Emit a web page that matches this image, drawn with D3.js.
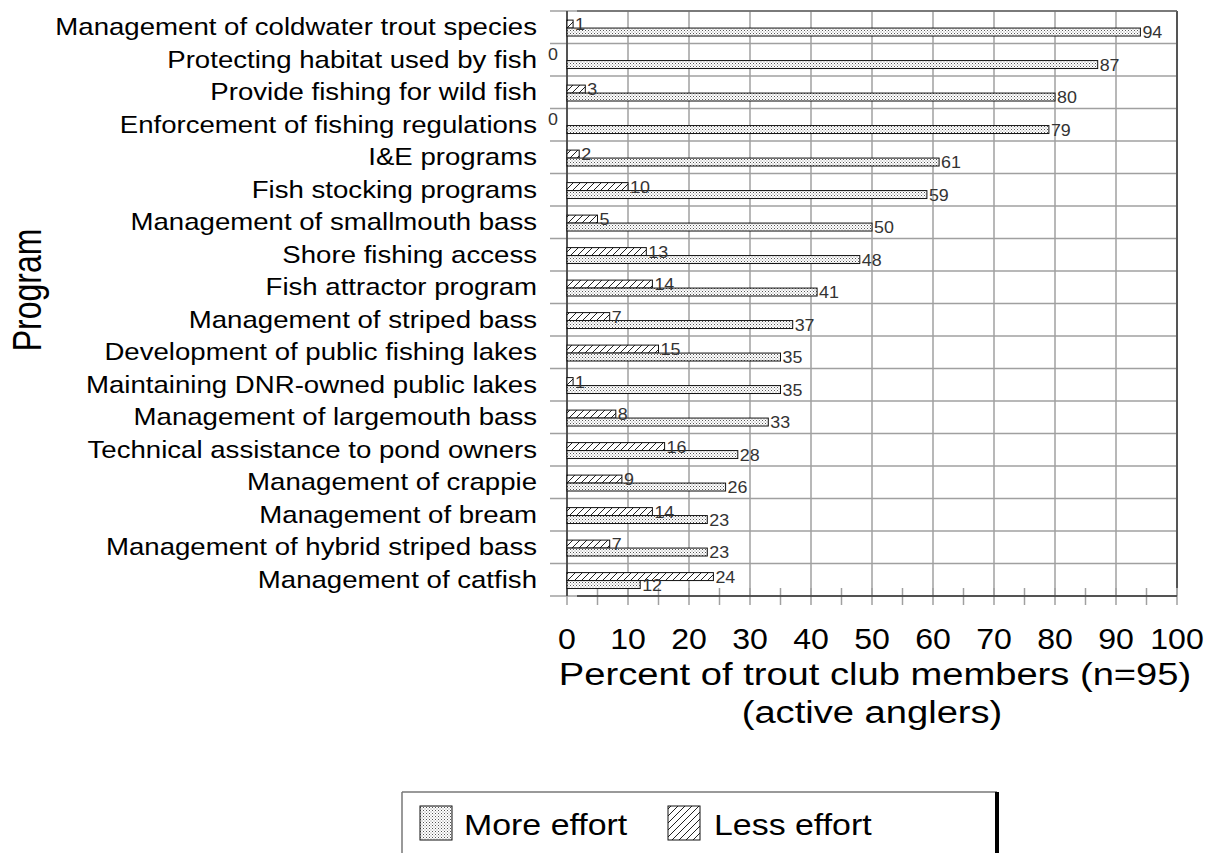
<!DOCTYPE html>
<html>
<head>
<meta charset="utf-8">
<script src="https://cdn.jsdelivr.net/npm/d3@7"></script>
<style>
  html, body { margin: 0; padding: 0; background: #fff; }
  svg { display: block; font-family: "Liberation Sans", Arial, sans-serif; }
</style>
</head>
<body>
<svg id="chart" width="1206" height="853"></svg>
<script>
// Programs, listed top to bottom
const categories = [
  "Management of coldwater trout species",
  "Protecting habitat used by fish",
  "Provide fishing for wild fish",
  "Enforcement of fishing regulations",
  "I&E programs",
  "Fish stocking programs",
  "Management of smallmouth bass",
  "Shore fishing access",
  "Fish attractor program",
  "Management of striped bass",
  "Development of public fishing lakes",
  "Maintaining DNR-owned public lakes",
  "Management of largemouth bass",
  "Technical assistance to pond owners",
  "Management of crappie",
  "Management of bream",
  "Management of hybrid striped bass",
  "Management of catfish"
];
// Percent of respondents wanting more effort
const moreEffort = [94, 87, 80, 79, 61, 59, 50, 48, 41, 37, 35, 35, 33, 28, 26, 23, 23, 12];
// Percent of respondents wanting less effort
const lessEffort = [1, 0, 3, 0, 2, 10, 5, 13, 14, 7, 15, 1, 8, 16, 9, 14, 7, 24];
const xTicks = [0, 10, 20, 30, 40, 50, 60, 70, 80, 90, 100];
const seriesNames = ["Less effort", "More effort"];

const svg = d3.select("#chart");

const plotLeft = 567, plotRight = 1177, plotTop = 11, plotBottom = 596;

const x = d3.scaleLinear().domain([0, 100]).range([plotLeft, plotRight]);
const y = d3.scaleBand().domain(categories).range([plotTop, plotBottom]);
const bw = y.bandwidth();
const inner = d3.scaleBand().domain(seriesNames).range([bw * 0.28, bw * 0.77]);

// Fill patterns
const defs = svg.append("defs");
const dots = defs.append("pattern").attr("id", "dots")
  .attr("patternUnits", "userSpaceOnUse").attr("width", 3).attr("height", 3);
dots.append("rect").attr("width", 3).attr("height", 3).attr("fill", "#fff");
dots.append("rect").attr("x", 0).attr("y", 0).attr("width", 1).attr("height", 1).attr("fill", "#555");
dots.append("rect").attr("x", 1.5).attr("y", 1.5).attr("width", 1).attr("height", 1).attr("fill", "#888");

const hatch = defs.append("pattern").attr("id", "hatch")
  .attr("patternUnits", "userSpaceOnUse").attr("width", 7).attr("height", 7);
hatch.append("rect").attr("width", 7).attr("height", 7).attr("fill", "#fff");
hatch.append("path").attr("d", "M0,7 L7,0 M-1,1 L1,-1 M6,8 L8,6")
  .attr("stroke", "#222").attr("stroke-width", 1);

function stretchedText(parent, tx, ty, str, size, anchor, sx, extra) {
  return parent.append("text")
    .attr("transform", `translate(${tx},${ty}) scale(${sx},1)` + (extra || ""))
    .attr("text-anchor", anchor)
    .attr("font-size", size)
    .attr("fill", "#000")
    .text(str);
}

const grid = svg.append("g");
// vertical gridlines
grid.selectAll("line.v").data(xTicks).join("line")
  .attr("x1", d => x(d)).attr("x2", d => x(d))
  .attr("y1", plotTop).attr("y2", plotBottom)
  .attr("stroke", "#a0a0a0").attr("stroke-width", 1.5);
// horizontal gridlines at category boundaries, extended left as ticks
const bounds = categories.map(c => y(c)).concat([plotBottom]);
grid.selectAll("line.h").data(bounds).join("line")
  .attr("x1", plotLeft - 17).attr("x2", plotRight)
  .attr("y1", d => d).attr("y2", d => d)
  .attr("stroke", "#a0a0a0").attr("stroke-width", 1.5);

// x tick marks every 5, crossing the axis
const minor = d3.range(0, 101, 5);
grid.selectAll("line.t").data(minor).join("line")
  .attr("x1", d => x(d)).attr("x2", d => x(d))
  .attr("y1", plotBottom - 8).attr("y2", plotBottom + 9)
  .attr("stroke", "#a0a0a0").attr("stroke-width", 1.5);

// frame and axis lines
svg.append("line").attr("x1", plotRight).attr("x2", plotRight).attr("y1", plotTop).attr("y2", plotBottom - 8)
  .attr("stroke", "#555").attr("stroke-width", 2);
svg.append("line").attr("x1", plotLeft + 10).attr("x2", plotRight).attr("y1", plotTop).attr("y2", plotTop)
  .attr("stroke", "#666").attr("stroke-width", 1.5);
svg.append("line").attr("x1", plotLeft + 10).attr("x2", plotRight).attr("y1", plotBottom).attr("y2", plotBottom)
  .attr("stroke", "#333").attr("stroke-width", 1.5);
svg.append("line").attr("x1", plotLeft).attr("x2", plotLeft).attr("y1", plotTop).attr("y2", plotBottom)
  .attr("stroke", "#333").attr("stroke-width", 1.5);

// bars
const rows = categories.map((c, i) => ({ c, more: moreEffort[i], less: lessEffort[i] }));
const series = [
  { name: "Less effort", key: "less", fill: "url(#hatch)" },
  { name: "More effort", key: "more", fill: "url(#dots)" }
];
const barG = svg.append("g");
series.forEach(s => {
  barG.selectAll(null).data(rows).join("rect")
    .attr("x", x(0))
    .attr("y", d => y(d.c) + inner(s.name))
    .attr("width", d => x(d[s.key]) - x(0))
    .attr("height", inner.bandwidth())
    .attr("fill", s.fill)
    .attr("stroke", d => d[s.key] > 0 ? "#111" : "none")
    .attr("stroke-width", 1);
});

// value labels
const labG = svg.append("g");
series.forEach(s => {
  rows.forEach(d => {
    const v = d[s.key];
    const by = y(d.c) + inner(s.name) + inner.bandwidth() + 2;
    if (v === 0) {
      stretchedText(labG, x(0) - 9, by - 3, String(v), 17, "end", 1.05).attr("fill", "#333");
    } else {
      stretchedText(labG, x(v) + 2, by, String(v), 17, "start", 1.05).attr("fill", "#333");
    }
  });
});

// category labels
const catG = svg.append("g");
categories.forEach(c => {
  stretchedText(catG, 537, y(c) + bw / 2 + 8, c, 24, "end", 1.15);
});

// x tick labels
const tl = svg.append("g");
xTicks.forEach(t => {
  stretchedText(tl, x(t), 649, String(t), 30, "middle", 1.07);
});

// axis titles
stretchedText(svg, (plotLeft + plotRight) / 2 + 3, 685, "Percent of trout club members (n=95)", 31, "middle", 1.23);
stretchedText(svg, (plotLeft + plotRight) / 2, 723, "(active anglers)", 31, "middle", 1.23);
stretchedText(svg, 41, 290, "Program", 32, "middle", 1.27, " rotate(-90)");

// legend
const lg = svg.append("g");
lg.append("line").attr("x1", 402).attr("x2", 402).attr("y1", 792).attr("y2", 853)
  .attr("stroke", "#777").attr("stroke-width", 1.5);
lg.append("line").attr("x1", 402).attr("x2", 997).attr("y1", 792).attr("y2", 792)
  .attr("stroke", "#777").attr("stroke-width", 1.5);
lg.append("line").attr("x1", 997).attr("x2", 997).attr("y1", 792).attr("y2", 853)
  .attr("stroke", "#000").attr("stroke-width", 4);
const legendItems = [
  { name: "More effort", fill: "url(#dots)", sx: 420, tx: 464 },
  { name: "Less effort", fill: "url(#hatch)", sx: 668, tx: 714 }
];
legendItems.forEach(it => {
  lg.append("rect").attr("x", it.sx).attr("y", 806).attr("width", 32).attr("height", 34)
    .attr("fill", it.fill).attr("stroke", "#111").attr("stroke-width", 1);
  stretchedText(lg, it.tx, 835, it.name, 30, "start", 1.13);
});
</script>
</body>
</html>
